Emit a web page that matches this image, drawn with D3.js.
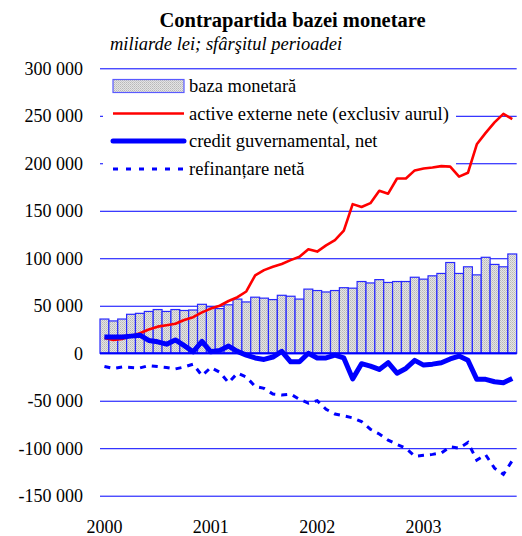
<!DOCTYPE html>
<html>
<head>
<meta charset="utf-8">
<script src="https://cdn.jsdelivr.net/npm/d3@7"></script>
<style>
  html, body { margin: 0; padding: 0; background: #fff; }
  svg { display: block; font-family: "Liberation Serif", "Times New Roman", serif; }
</style>
</head>
<body>
<svg id="chart" width="522" height="536"></svg>
<script>
// ---- data (thousand-lei values; end of month, Jan 2000 – Nov 2003) ----
const months = d3.range(47).map(i => `${2000 + Math.floor(i / 12)}-${String(i % 12 + 1).padStart(2, "0")}`);
const bazaMonetara = [36, 34, 36, 41, 42, 44, 46, 44, 46, 45, 45.5, 51.5,
  49, 47, 51, 57, 54, 59, 58, 56.5, 61, 60, 57, 67.5,
  66, 64.5, 66, 69, 68.5, 75.5, 74, 77.5, 74.5, 75.5, 75.5, 80,
  78, 81.5, 84, 95.5, 84, 91, 82.5, 101, 93.5, 91, 104.5].map(v => v * 1000);
const activeExterne = [16, 14, 15, 18, 21, 25, 28, 29.5, 31, 35, 38, 43,
  47, 50, 55, 59, 65, 82, 87.5, 91, 94, 98, 101.5, 109.5,
  107, 113.5, 119, 129, 157, 154, 158, 171, 168, 184, 184, 192.5,
  194.5, 195.5, 197, 196.5, 186, 190, 220, 232, 243, 252, 246.5].map(v => v * 1000);
const creditGuvernamental = [17, 17, 17, 18, 19, 13.5, 12, 9.5, 14, 8, 1.5, 12.5,
  1.5, 3, 7.5, 2, -2, -5, -6.5, -4, 2, -9, -9, 0,
  -5, -5, -2, -5, -27, -11, -13.5, -17, -10, -21, -16, -7.5,
  -12.5, -11.5, -10, -6, -3, -7.5, -27.5, -27.5, -30, -31, -26.5].map(v => v * 1000);
const refinantareNeta = [-14, -16, -14.5, -15, -15.5, -13, -14, -15, -16.5, -14.5, -11.5, -23.5,
  -15, -20, -31, -21, -25, -35, -37, -43, -44, -43, -48.5, -52.5,
  -50, -59, -64, -66, -68, -72, -80, -85, -91.5, -96, -100, -108.5,
  -107.5, -106.5, -105, -98.5, -100, -94, -112.5, -107, -121, -127.5, -113].map(v => v * 1000);
const yTicks = [300000, 250000, 200000, 150000, 100000, 50000, 0, -50000, -100000, -150000];
const yearLabels = ["2000", "2001", "2002", "2003"];
const yearIndex = [0, 12, 24, 36];
const legendLabels = ["baza monetară", "active externe nete (exclusiv aurul)", "credit guvernamental, net", "refinanțare netă"];
const titleText = "Contrapartida bazei monetare";
const subtitleText = "miliarde lei; sfârşitul perioadei";

// ---- layout ----
const svg = d3.select("#chart");
const pLeft = 100, pRight = 516.7, pTop = 68.3, pBottom = 495.7;
const blue = "#0000ff";

const x = d3.scaleBand().domain(months).range([pLeft, pRight]).padding(0);
const y = d3.scaleLinear().domain([-150000, 300000]).range([pBottom, pTop]);

const loc = d3.formatLocale({ decimal: ".", thousands: " ", grouping: [3], currency: ["", ""], minus: "-" });
const fmt = loc.format(",");

// pattern for bars
const defs = svg.append("defs");
const pat = defs.append("pattern").attr("id", "hatch").attr("width", 2).attr("height", 2)
  .attr("patternUnits", "userSpaceOnUse");
pat.append("rect").attr("width", 2).attr("height", 2).attr("fill", "#e4e4e4");
pat.append("rect").attr("width", 1).attr("height", 1).attr("fill", "#b8b8b8");
pat.append("rect").attr("x", 1).attr("y", 1).attr("width", 1).attr("height", 1).attr("fill", "#c8c8c8");

// title
svg.append("text").attr("x", 292.5).attr("y", 27).attr("text-anchor", "middle")
  .attr("font-weight", "bold").attr("font-size", 20.5).text(titleText);
svg.append("text").attr("x", 110).attr("y", 50).attr("font-style", "italic")
  .attr("font-size", 18.5).text(subtitleText);

// y axis with gridlines
const yAxis = d3.axisLeft(y).tickValues(yTicks).tickFormat(fmt)
  .tickSizeInner(-(pRight - pLeft)).tickSizeOuter(0).tickPadding(17);
const gy = svg.append("g").attr("transform", `translate(${pLeft},0)`).call(yAxis);
gy.select(".domain").remove();
gy.selectAll(".tick line").attr("stroke", blue).attr("stroke-width", 1);
gy.selectAll(".tick text").attr("font-size", 18).attr("fill", "#000")
  .attr("font-family", "Liberation Serif, Times New Roman, serif").attr("dy", "0.33em");

// legend background (hides gridlines behind legend, below data)
svg.append("rect").attr("x", 103).attr("y", 72).attr("width", 353).attr("height", 112).attr("fill", "#fff");

// bars
svg.append("g").selectAll("rect").data(bazaMonetara).join("rect")
  .attr("x", (d, i) => x(months[i]))
  .attr("y", d => y(d))
  .attr("width", x.bandwidth())
  .attr("height", d => y(0) - y(d))
  .attr("fill", "url(#hatch)")
  .attr("stroke", "#2828ff").attr("stroke-width", 1.2);

// zero line
svg.append("line").attr("x1", pLeft).attr("x2", pRight).attr("y1", y(0)).attr("y2", y(0))
  .attr("stroke", blue).attr("stroke-width", 2.2);

const cx = i => x(months[i]) + x.bandwidth() / 2;
const line = d3.line().x((d, i) => cx(i)).y(d => y(d));

svg.append("path").datum(activeExterne).attr("d", line)
  .attr("fill", "none").attr("stroke", "#ff0000").attr("stroke-width", 2.6).attr("stroke-linejoin", "round");
svg.append("path").datum(creditGuvernamental).attr("d", line)
  .attr("fill", "none").attr("stroke", blue).attr("stroke-width", 5).attr("stroke-linejoin", "round");
svg.append("path").datum(refinantareNeta).attr("d", line)
  .attr("fill", "none").attr("stroke", blue).attr("stroke-width", 3).attr("stroke-dasharray", "6,6");

// x labels
svg.append("g").selectAll("text").data(yearLabels).join("text")
  .attr("x", (d, i) => cx(yearIndex[i]))
  .attr("y", 533).attr("text-anchor", "middle").attr("font-size", 18).text(d => d);

// legend items
const lg = svg.append("g");
const rowsY = [86, 113.5, 141, 169];
lg.append("rect").attr("x", 113).attr("y", 79.5).attr("width", 71).attr("height", 13)
  .attr("fill", "url(#hatch)").attr("stroke", "#5a5aff").attr("stroke-width", 1.2);
lg.append("line").attr("x1", 113).attr("x2", 184).attr("y1", rowsY[1]).attr("y2", rowsY[1])
  .attr("stroke", "#ff0000").attr("stroke-width", 2.6);
lg.append("line").attr("x1", 113).attr("x2", 184).attr("y1", rowsY[2]).attr("y2", rowsY[2])
  .attr("stroke", blue).attr("stroke-width", 5).attr("stroke-linecap", "round");
lg.append("line").attr("x1", 113).attr("x2", 186).attr("y1", rowsY[3]).attr("y2", rowsY[3])
  .attr("stroke", blue).attr("stroke-width", 3).attr("stroke-dasharray", "5,8");
lg.selectAll("text.lbl").data(legendLabels).join("text").attr("class", "lbl")
  .attr("x", 189).attr("y", (d, i) => rowsY[i] + 6).attr("font-size", 18.5).text(d => d);
</script>
</body>
</html>
